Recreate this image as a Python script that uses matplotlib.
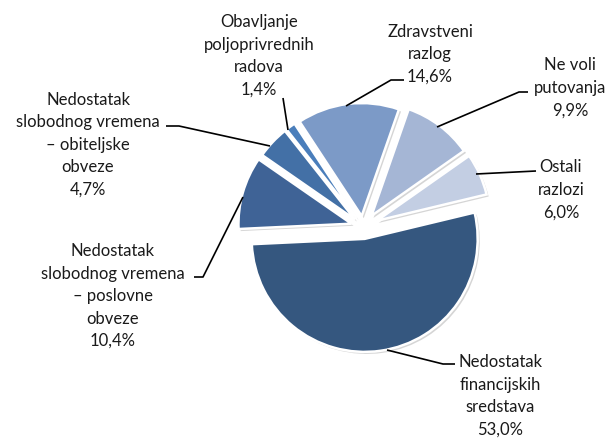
import matplotlib
matplotlib.use("Agg")
import matplotlib.pyplot as plt
import matplotlib.patheffects as pe
import numpy as np

# Data (counter-clockwise order, starting from the right)
labels = [
    "Ostali\nrazlozi",
    "Ne voli\nputovanja",
    "Zdravstveni\nrazlog",
    "Obavljanje\npoljoprivrednih\nradova",
    "Nedostatak\nslobodnog vremena\n– obiteljske\nobveze",
    "Nedostatak\nslobodnog vremena\n– poslovne\nobveze",
    "Nedostatak\nfinancijskih\nsredstava",
]
values = [6.0, 9.9, 14.6, 1.4, 4.7, 10.4, 53.0]
colors = ["#C3CEE3", "#A5B6D5", "#7C9AC7", "#4A7EBB", "#4370A6", "#3F6396", "#35577F"]

W, H = 607, 439
fig = plt.figure(figsize=(W / 100, H / 100), dpi=100)
ax = fig.add_axes([0, 0, 1, 1])

cx, cy = 363, H - 228
R = 113
explode = [15, 14, 11, 11, 11, 12, 12]  # pixel offsets

wedges, _ = ax.pie(values, colors=colors, startangle=13.5, counterclock=True,
                   radius=R, center=(cx, cy), explode=explode,
                   wedgeprops=dict(edgecolor="white", linewidth=1.8))
for w in wedges:
    w.set_path_effects([pe.SimplePatchShadow(offset=(1.5, -1.5), shadow_rgbFace="#888888", alpha=0.35),
                        pe.Normal()])

ax.set_xlim(0, W)
ax.set_ylim(0, H)
ax.set_aspect("equal")
ax.axis("off")

# label texts, centres in pixel coords of the reference
texts = [f"{l}\n{v:.1f}%".replace(".", ",") for l, v in zip(labels, values)]
label_pos = [(561, 190), (570, 88), (430, 54), (259, 56), (88, 145), (113, 296), (500, 396)]
# leader lines (pixel coords)
leaders = [
    [(536, 172), (476, 175)],
    [(528, 93), (519, 93), (437, 128)],
    [(404, 81), (391, 81), (346, 107)],
    [(283, 99), (288, 131)],
    [(166, 127), (179, 127), (270, 147)],
    [(194, 278), (203, 278), (243, 198)],
    [(455, 365), (443, 365), (387, 351)],
]

font = ["Lato", "DejaVu Sans"]
for t, (x, y) in zip(texts, label_pos):
    ax.text(x, H - y, t, ha="center", va="center", fontsize=12, family=font,
            linespacing=1.5, color="#1a1a1a")
for pts in leaders:
    xs = [p[0] for p in pts]
    ys = [H - p[1] for p in pts]
    ax.plot(xs, ys, color="black", lw=1.2, solid_capstyle="butt")

fig.savefig("out.png", dpi=100)
